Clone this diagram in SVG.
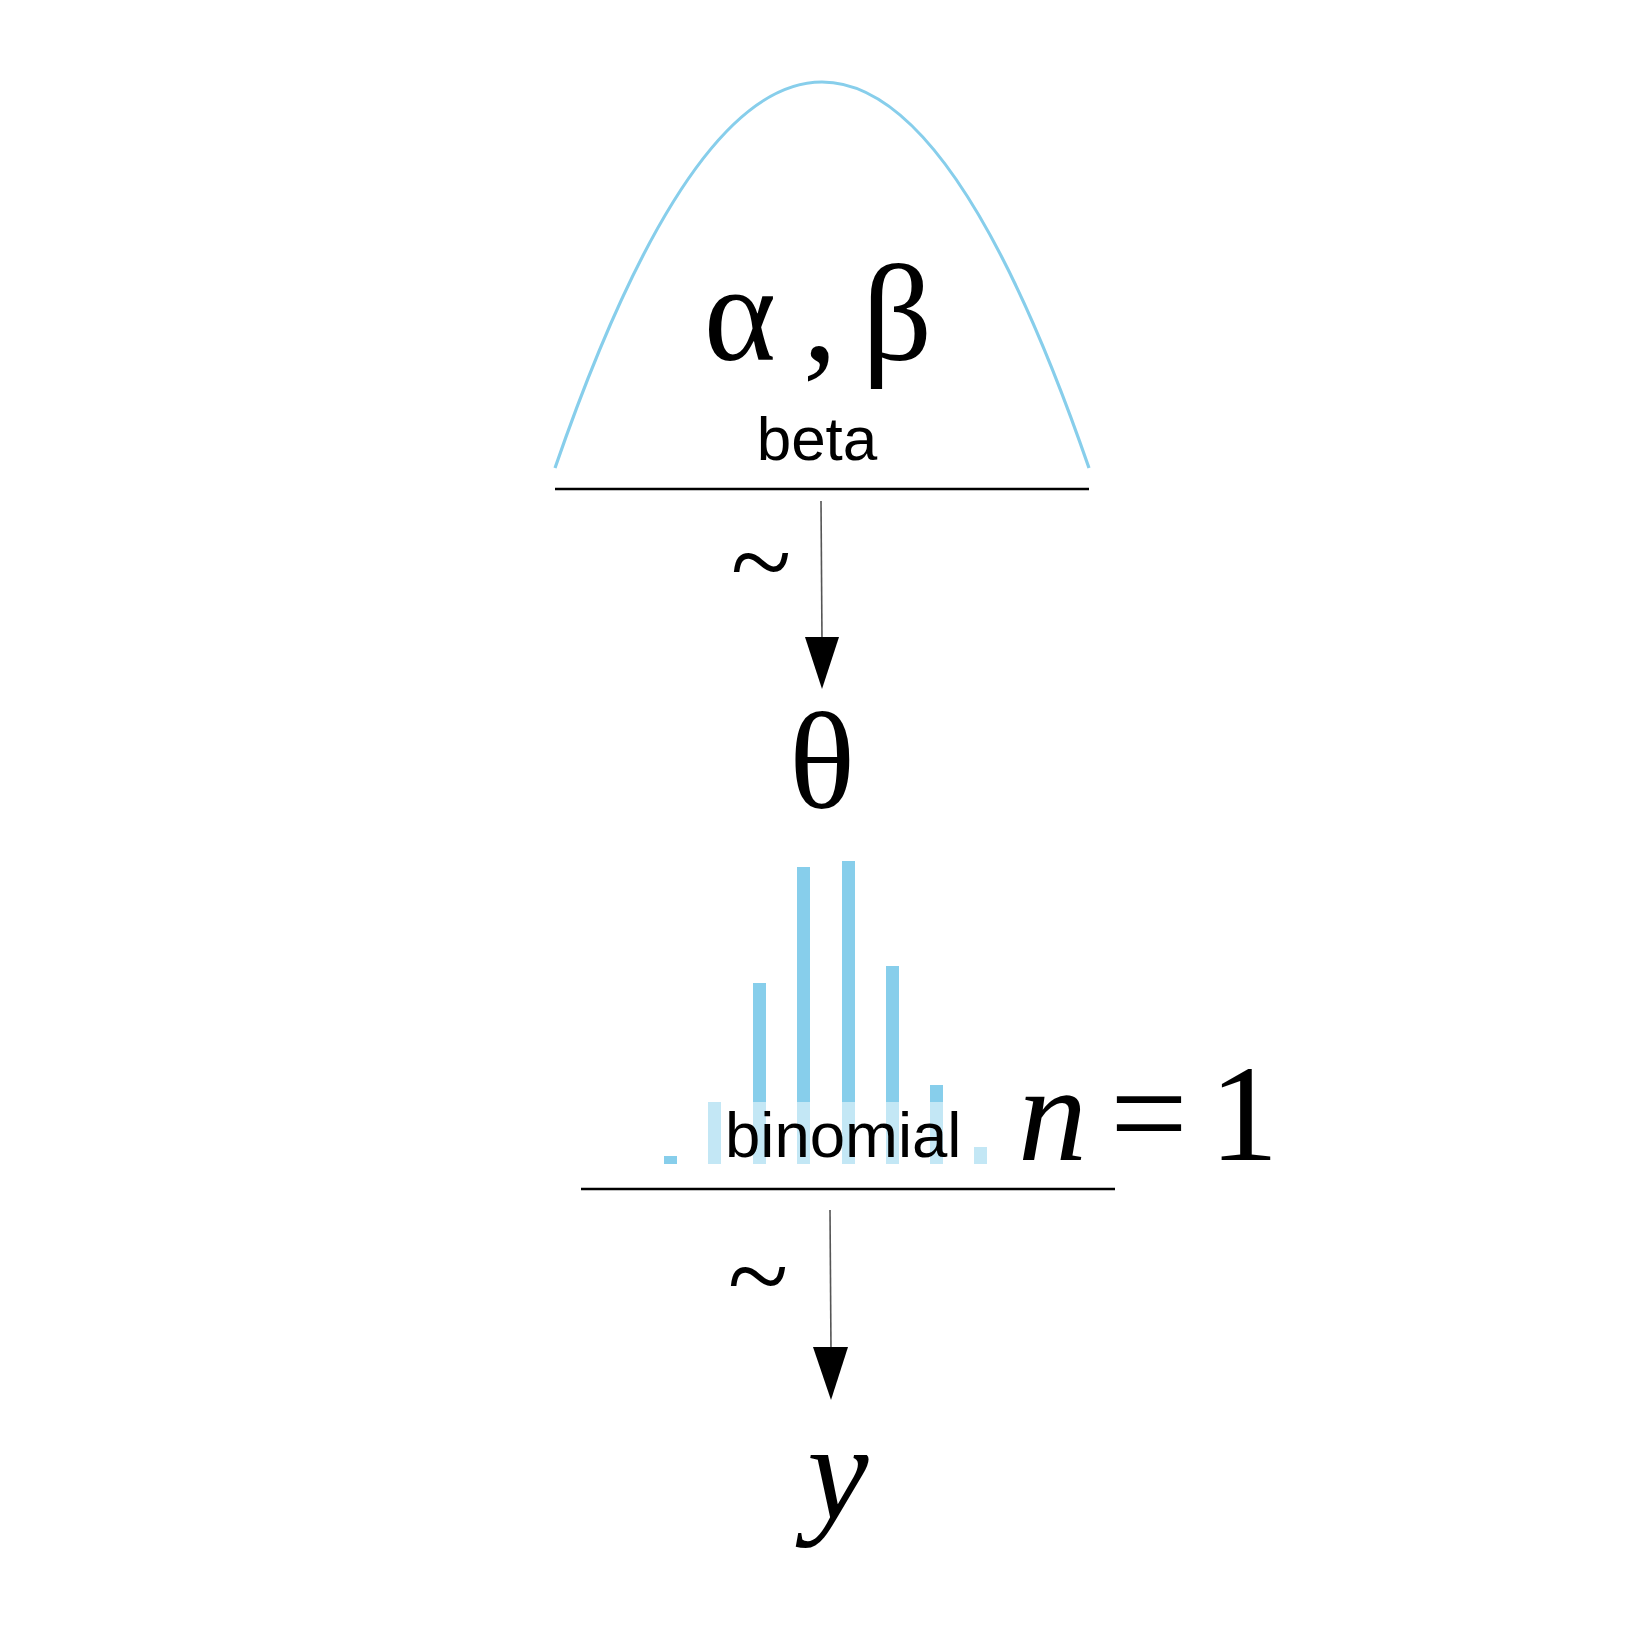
<svg xmlns="http://www.w3.org/2000/svg" width="1650" height="1650" viewBox="0 0 1650 1650">
<style>
.math{font-family:"Liberation Serif","Times New Roman",serif;font-size:138px;fill:#000}
.it{font-style:italic}
.lbl{font-family:"Liberation Sans",Arial,sans-serif;font-size:62px;fill:#000}
.tilde{font-family:"Liberation Serif","Times New Roman",serif;font-size:112px;fill:#000}
.bar{fill:#87CEEB}
.base{stroke:#000;stroke-width:2.5}
.edge{stroke:#555;stroke-width:1.6;fill:none}
.head{fill:#000}
</style>
<rect width="1650" height="1650" fill="#fff"/>
<g id="node-prior">
  <path d="M555,468 Q822,-304 1089,468" fill="none" stroke="#87CEEB" stroke-width="3.2"/>
  <text class="math" x="740" y="360" text-anchor="middle">α</text>
  <text class="math" x="820" y="360" text-anchor="middle">,</text>
  <text class="math" x="897" y="360" text-anchor="middle">β</text>
  <text class="lbl" x="817" y="460" text-anchor="middle">beta</text>
  <line class="base" x1="555" y1="489" x2="1089" y2="489"/>
</g>
<g id="node-theta">
  <text class="math" x="822" y="808" text-anchor="middle">θ</text>
</g>
<g id="node-likelihood">
  <rect class="bar" x="664" y="1156" width="13" height="8"/>
  <rect class="bar" x="708" y="1102" width="13" height="62"/>
  <rect class="bar" x="753" y="983" width="13" height="181"/>
  <rect class="bar" x="797" y="867" width="13" height="297"/>
  <rect class="bar" x="842" y="861" width="13" height="303"/>
  <rect class="bar" x="886" y="966" width="13" height="198"/>
  <rect class="bar" x="930" y="1085" width="13" height="79"/>
  <rect class="bar" x="974" y="1147" width="13" height="17"/>
  <rect x="692" y="1102" width="302" height="64" fill="#fff" fill-opacity="0.5"/>
  <text class="lbl" x="725" y="1157" style="font-size:63.5px">binomial</text>
  <text class="math it" x="1018" y="1160">n</text>
  <text class="math" x="1149" y="1160" text-anchor="middle">=</text>
  <text class="math" x="1244" y="1160" text-anchor="middle">1</text>
  <line class="base" x1="581" y1="1189" x2="1115" y2="1189"/>
</g>
<g id="node-y">
  <text class="math it" x="838" y="1519" text-anchor="middle">y</text>
</g>
<g id="connectors">
  <line class="edge" x1="821" y1="501" x2="822" y2="640"/>
  <polygon class="head" points="805,637 839,637 822,689"/>
  <text class="tilde" x="761" y="600" text-anchor="middle">~</text>
  <line class="edge" x1="830" y1="1210" x2="831" y2="1350"/>
  <polygon class="head" points="813,1347 848,1347 831,1400"/>
  <text class="tilde" x="758" y="1314" text-anchor="middle">~</text>
</g>
</svg>
